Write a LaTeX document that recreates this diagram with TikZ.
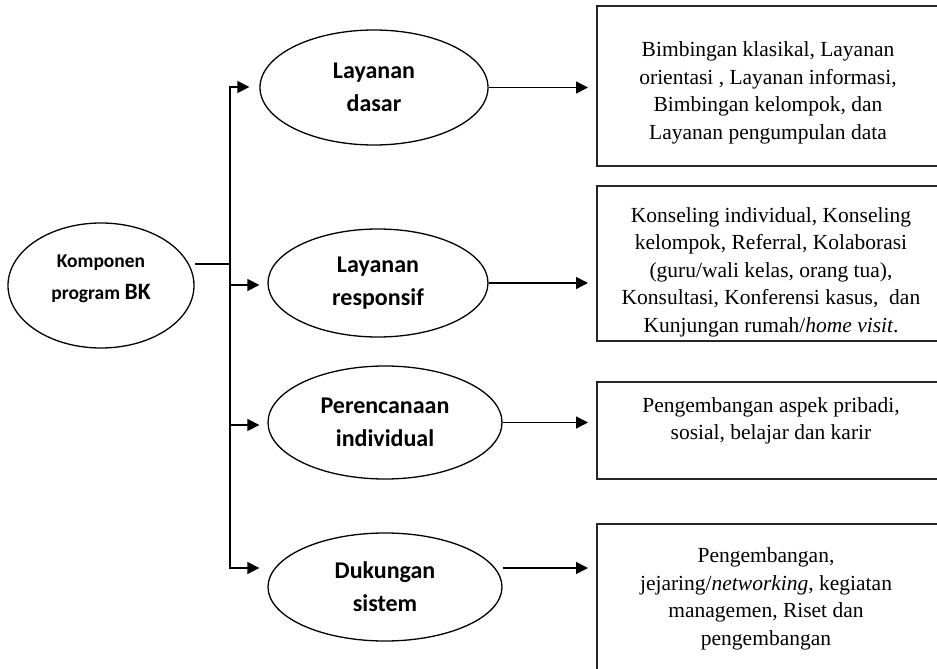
\documentclass[tikz,border=0pt]{standalone}
\usepackage{fontspec}
\setmainfont{Liberation Serif}
\newfontfamily\calibri{Carlito}
\usetikzlibrary{arrows.meta,shapes.geometric,calc}
\begin{document}
\begin{tikzpicture}[x=1pt,y=-1pt,
  oval/.style={ellipse,draw,line width=1.3pt,inner sep=0pt,align=center,
    font=\calibri\bfseries\fontsize{24}{33}\selectfont},
  boxnode/.style={rectangle,draw=none,anchor=north west,inner sep=0pt,outer sep=0pt},
  boxline/.style={draw=black!85,line width=2.2pt,line join=miter},
  boxtext/.style={align=center,inner sep=0pt,font=\fontsize{21.5}{27.5}\selectfont},
  conn/.style={line width=1.5pt},
  arr/.style={conn,-{Triangle[length=12pt,width=12pt]}}
]
\useasboundingbox (0,0) rectangle (937,669);
\fill[white] (0,0) rectangle (937,669);
\begin{scope}
\clip (0,0) rectangle (937,669);

% ellipses
\node[oval,minimum width=186pt,minimum height=125pt] (e0) at (101,285.5) {};
\node[align=center,inner sep=0pt,font=\calibri\bfseries\fontsize{19.5}{32}\selectfont] (e0t) at (101,279)
  {Komponen\\program {\fontsize{23.5}{32}\selectfont BK}};
\node[oval,minimum width=228pt,minimum height=115pt] (e1) at (374,87.5) {Layanan\\dasar};
\node[oval,minimum width=220pt,minimum height=108pt] (e2) at (378,283) {Layanan\\responsif};
\node[oval,minimum width=234pt,minimum height=113pt] (e3) at (385,422.5) {Perencanaan\\individual};
\node[oval,minimum width=234pt,minimum height=108pt] (e4) at (385,587) {Dukungan\\sistem};

% boxes (right sides lie outside the picture)
\node[boxnode,minimum width=360pt,minimum height=160pt] (b1) at (597,6) {};
\node[boxnode,minimum width=360pt,minimum height=155pt] (b2) at (597,186) {};
\node[boxnode,minimum width=360pt,minimum height=97pt] (b3) at (597,382) {};
\node[boxnode,minimum width=360pt,minimum height=180pt] (b4) at (597,524) {};
\foreach \b in {b1,b2,b3,b4}
  \draw[boxline] (\b.north east) -- (\b.north west) -- (\b.south west) -- (\b.south east);

\node[boxtext] (b1t) at (768,93) {Bimbingan klasikal, Layanan\\orientasi , Layanan informasi,\\Bimbingan kelompok, dan\\Layanan pengumpulan data};
\node[boxtext] (b2t) at (771,272) {Konseling individual, Konseling\\kelompok, Referral, Kolaborasi\\(guru/wali kelas, orang tua),\\Konsultasi, Konferensi kasus,\ \ dan\\Kunjungan rumah/\textit{home visit}.};
\node[boxtext] (b3t) at (771,421) {Pengembangan aspek pribadi,\\sosial, belajar dan karir};
\node[boxtext] (b4t) at (766,599) {Pengembangan,\\jejaring/\textit{networking}, kegiatan\\managemen, Riset dan\\pengembangan};

% connectors
\coordinate (j) at (230,264);
\coordinate (t1) at (230,87);
\coordinate (t2) at (230,285);
\coordinate (t3) at (230,425);
\coordinate (t4) at (230,568);
\draw[conn] (e0.east |- j) -- (j);
\draw[conn,line cap=rect] (t1) -- (t4);
\draw[arr,shorten >=10pt] (t1) -- (e1.west |- t1);
\draw[arr,shorten >=8pt] (t2) -- (e2.west |- t2);
\draw[arr,shorten >=8pt] (t3) -- (e3.west |- t3);
\draw[arr,shorten >=8pt] (t4) -- (e4.west |- t4);

\draw[arr,shorten >=9pt] (e1.east) -- (b1.west |- e1.east);
\draw[arr,shorten >=9pt] (e2.east) -- (b2.west |- e2.east);
\draw[arr,shorten >=9pt] (e3.east) -- (b3.west |- e3.east);
\draw[arr,shorten >=9pt] (e4.east |- t4) -- (b4.west |- t4);
\end{scope}
\end{tikzpicture}
\end{document}
